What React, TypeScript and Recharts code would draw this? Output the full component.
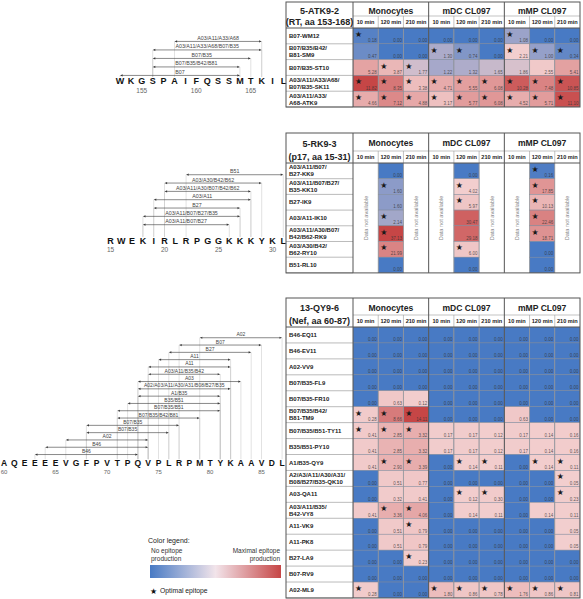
import React from 'react';
import { BarChart, Bar, XAxis, YAxis, ScatterChart, Scatter } from 'recharts';

const FONT = '"Liberation Sans", Arial, sans-serif';

// table geometry (page px)
const TL = 286;
const DX0 = 353;
const DX1 = 580;
const TR = 583;
const COLW = (DX1 - DX0) / 9;

const GROUPS = ['Monocytes', 'mDC CL097', 'mMP CL097'];
const TIMES = ['10 min', '120 min', '210 min'];

// ---- 5-ATK9-2
const seq1 = 'WKGSPAIFQSSMTKIL';
const seq1Start = 153;
const hla1 = ['A03/A11/A33/A68', 'A03/A11/A33/A68/B07/B35', 'B07/B35', 'B07/B35/B42/B81', 'B07'];
const from1 = [158, 156, 156, 156, 153];
const to1 = [166, 166, 165, 164, 164];

const title1 = ['5-ATK9-2', '(RT, aa 153-168)'];
const rows1 = ['B07-WM12', 'B07/B35/B42/\nB81-SM9', 'B07/B35-ST10', 'A03/A11/A33/A68/\nB07/B35-SK11', 'A03/A11/A33/\nA68-ATK9'];
const values1 = [
  [0.18, 0.0, 0.0, 0.0, 0.0, 0.0, 1.08, 0.0, 0.0],
  [0.47, 0.0, 0.0, 1.3, 0.74, 0.0, 2.21, 1.0, 0.34],
  [5.28, 3.87, 1.77, 1.22, 1.32, 1.65, 1.86, 2.55, 5.41],
  [11.82, 8.35, 3.38, 4.71, 5.55, 6.08, 10.28, 7.48, 10.85],
  [4.66, 7.12, 4.88, 3.17, 5.77, 6.08, 4.52, 5.71, 11.1],
];
const stars1 = [
  [1, 0, 0, 0, 0, 0, 1, 0, 0],
  [0, 0, 0, 1, 1, 0, 1, 1, 1],
  [0, 1, 1, 0, 0, 0, 0, 0, 0],
  [1, 1, 1, 1, 1, 1, 1, 1, 1],
  [1, 1, 1, 1, 1, 1, 1, 1, 1],
];

// ---- 5-RK9-3
const seq2 = 'RWEKIRLRPGGKKKYKL';
const seq2Start = 15;
const hla2 = ['B51', 'A03/A30/B42/B62', 'A03/A11/A30/B07/B42/B62', 'A03/A11', 'B27', 'A03/A11/B07/B27/B35', 'A03/A11/B07/B27'];
const from2 = [22, 20, 20, 19, 19, 18, 18];
const to2 = [31, 29, 28, 28, 27, 27, 26];

const title2 = ['5-RK9-3', '(p17, aa 15-31)'];
const rows2 = ['A03/A11/B07/\nB27-KK9', 'A03/A11/B07/B27/\nB35-KK10', 'B27-IK9', 'A03/A11-IK10', 'A03/A11/A30/B07/\nB42/B62-RK9', 'A03/A30/B42/\nB62-RY10', 'B51-RL10'];
const values2 = [
  [null, 0.0, null, null, 0.0, null, null, 0.16, null],
  [null, 1.6, null, null, 4.02, null, null, 17.85, null],
  [null, 1.6, null, null, 5.97, null, null, 10.13, null],
  [null, 2.14, null, null, 30.47, null, null, 22.46, null],
  [null, 37.13, null, null, 29.18, null, null, 18.71, null],
  [null, 21.99, null, null, 6.0, null, null, 0.0, null],
  [null, 0.0, null, null, 0.0, null, null, 0.0, null],
];
const stars2 = [
  [0, 0, 0, 0, 0, 0, 0, 1, 0],
  [0, 1, 0, 0, 1, 0, 0, 1, 0],
  [0, 0, 0, 0, 1, 0, 0, 1, 0],
  [0, 1, 0, 0, 0, 0, 0, 1, 0],
  [0, 1, 0, 0, 0, 0, 0, 1, 0],
  [0, 1, 0, 0, 1, 0, 0, 0, 0],
  [0, 0, 0, 0, 0, 0, 0, 0, 0],
];

// ---- 13-QY9-6
const seq3 = 'AQEEEEVGFPVTPQVPLRPMTYKAAVDL';
const seq3Start = 60;
const hla3 = ['A02', 'B07', 'B27', 'A11', 'A11', 'A03/A11/B35/B42', 'A03', 'A02/A03/A11/A30/A31/B08/B27/B35', 'A1/B35', 'B35/B51', 'B07/B35/B51', 'B07/B35/B42/B81', 'B07/B35', 'B07/B35', 'A02', 'B46', 'B46'];
const from3 = [79, 77, 76, 75, 74, 74, 73, 73, 73, 72, 71, 71, 68, 68, 66, 64, 63];
const to3 = [87, 85, 84, 82, 82, 81, 83, 82, 81, 81, 81, 79, 77, 76, 74, 74, 73];

const title3 = ['13-QY9-6', '(Nef, aa 60-87)'];
const rows3 = ['B46-EQ11', 'B46-EV11', 'A02-VV9', 'B07/B35-FL9', 'B07/B35-FR10', 'B07/B35/B42/\nB81-TM9', 'B07/B35/B51-TY11', 'B35/B51-PY10', 'A1/B35-QY9', 'A2/A3/A11/A30/A31/\nB08/B27/B35-QK10', 'A03-QA11', 'A03/A11/B35/\nB42-VY8', 'A11-VK9', 'A11-PK8', 'B27-LA9', 'B07-RV9', 'A02-ML9'];
const values3 = [
  [0, 0, 0, 0, 0, 0, 0, 0, 0],
  [0, 0, 0, 0, 0, 0, 0, 0, 0],
  [0, 0, 0, 0, 0, 0, 0, 0, 0],
  [0, 0, 0, 0, 0, 0, 0, 0, 0],
  [0, 0.63, 0.12, 0, 0, 0, 0, 0, 0],
  [0.28, 8.66, 14.11, 0, 0, 0, 0.63, 0, 0],
  [0.41, 2.85, 3.32, 0.17, 0.17, 0.12, 0.17, 0.14, 0.16],
  [0.41, 2.85, 3.32, 0.17, 0.17, 0.12, 0.17, 0.14, 0.16],
  [0.41, 2.9, 3.39, 0, 0.14, 0.11, 0, 0.14, 0.11],
  [0, 0.51, 0.77, 0, 0, 0, 0, 0, 0.05],
  [0, 0.32, 0.41, 0, 0.12, 0.3, 0, 0, 0.23],
  [0.41, 3.36, 4.06, 0, 0.14, 0.11, 0, 0.14, 0.11],
  [0, 0.51, 0.79, 0, 0, 0, 0, 0, 0.05],
  [0, 0.51, 0.79, 0, 0, 0, 0, 0, 0.05],
  [0, 0, 0.23, 0, 0, 0, 0, 0, 0],
  [0, 0, 0, 0, 0, 0, 0, 0, 0],
  [0.28, 0, 0, 1.8, 0.86, 0.78, 1.76, 0.86, 0.81],
];
const stars3 = [
  [0, 0, 0, 0, 0, 0, 0, 0, 0],
  [0, 0, 0, 0, 0, 0, 0, 0, 0],
  [0, 0, 0, 0, 0, 0, 0, 0, 0],
  [0, 0, 0, 0, 0, 0, 0, 0, 0],
  [0, 0, 0, 0, 0, 0, 0, 0, 0],
  [1, 1, 1, 0, 0, 0, 0, 0, 0],
  [1, 1, 1, 0, 0, 0, 0, 0, 0],
  [0, 0, 0, 0, 0, 0, 0, 0, 0],
  [0, 1, 1, 0, 1, 1, 0, 1, 1],
  [0, 0, 0, 0, 0, 0, 0, 0, 1],
  [0, 0, 0, 0, 1, 1, 0, 0, 1],
  [0, 1, 1, 0, 0, 0, 0, 0, 0],
  [0, 0, 1, 0, 0, 0, 0, 0, 0],
  [0, 0, 0, 0, 0, 0, 0, 0, 0],
  [0, 0, 1, 0, 0, 0, 0, 0, 0],
  [0, 0, 0, 0, 0, 0, 0, 0, 0],
  [1, 0, 0, 1, 1, 1, 1, 1, 1],
];

const BLUE = [72, 122, 196];
const PINK = [242, 206, 206];
const RED = [198, 70, 70];

const mix = (a: number[], b: number[], t: number) => {
  const k = Math.max(0, Math.min(1, t));
  const c = a.map((v, i) => Math.round(v + (b[i] - v) * k));
  return `rgb(${c[0]},${c[1]},${c[2]})`;
};

const heatColor = (v: number, mid: number, max: number) => {
  if (v <= mid) return mix(BLUE, PINK, mid > 0 ? v / mid : 0);
  return mix(PINK, RED, (v - mid) / (max - mid));
};

const median = (xs: number[]) => {
  const s = [...xs].sort((a, b) => a - b);
  const n = s.length;
  return n % 2 ? s[(n - 1) / 2] : (s[n / 2 - 1] + s[n / 2]) / 2;
};

type DiagramProps = {
  seq: string; start: number; hla: string[]; from: number[]; to: number[];
  left: number; top: number; width: number; height: number;
  x0: number; unit: number; firstLine: number; rowGap: number;
  letterY: number; numY: number; labelSize: number; letterSize: number; numSize: number;
};

function Diagram(p: DiagramProps) {
  const plotLeft = p.x0 - p.unit / 2 - p.left;
  const plotRight = plotLeft + p.seq.length * p.unit;
  const bandTop = p.firstLine - 0.85 * p.rowGap - p.top;
  const plotH = p.hla.length * p.rowGap;
  const axisH = p.height - bandTop - plotH;
  const positions = p.seq.split('').map((_, i) => p.start + i);
  const data = p.hla.map((h, i) => ({ name: 'e' + i, hla: h, range: [p.from[i], p.to[i]] }));
  const dotBottom = p.letterY - p.top - p.letterSize * 0.45;

  const tick = (t: any) => {
    const v = t.payload.value;
    return (
      <g fontFamily={FONT}>
        <text x={t.x} y={p.letterY - p.top} textAnchor="middle" dominantBaseline="central" fontSize={p.letterSize} fontWeight={700} fill="#111">
          {p.seq[v - p.start]}
        </text>
        {v % 5 === 0 && (
          <text x={t.x} y={p.numY - p.top} textAnchor="middle" dominantBaseline="central" fontSize={p.numSize} fill="#666">
            {v}
          </text>
        )}
      </g>
    );
  };

  const arrow = (s: any) => {
    const ly = s.y + s.height * 0.85;
    const x1 = s.x;
    const x2 = s.x + s.width;
    return (
      <g>
        <line x1={x1} y1={ly} x2={x1} y2={dotBottom} stroke="#c4c4c4" strokeWidth={0.5} />
        <line x1={x2} y1={ly} x2={x2} y2={dotBottom} stroke="#c4c4c4" strokeWidth={0.5} />
        <line x1={x1 + 2} y1={ly} x2={x2 - 2} y2={ly} stroke="#3a3a3a" strokeWidth={0.6} />
        <polygon points={`${x1},${ly} ${x1 + 2.6},${ly - 1.1} ${x1 + 2.6},${ly + 1.1}`} fill="#3a3a3a" />
        <polygon points={`${x2},${ly} ${x2 - 2.6},${ly - 1.1} ${x2 - 2.6},${ly + 1.1}`} fill="#3a3a3a" />
        <text x={(x1 + x2) / 2} y={ly - 1.5} textAnchor="middle" fontSize={p.labelSize} fill="#444" fontFamily={FONT}>
          {s.payload.hla}
        </text>
      </g>
    );
  };

  return (
    <div style={{ position: 'absolute', left: p.left, top: p.top }}>
      <BarChart
        width={p.width}
        height={p.height}
        data={data}
        layout="vertical"
        barCategoryGap={0}
        margin={{ top: bandTop, left: plotLeft, right: p.width - plotRight, bottom: 0 }}
      >
        <XAxis
          type="number"
          domain={[p.start - 0.5, p.start + p.seq.length - 0.5]}
          ticks={positions}
          interval={0}
          allowDataOverflow
          axisLine={false}
          tickLine={false}
          height={axisH}
          tick={tick}
        />
        <YAxis type="category" dataKey="name" hide />
        <Bar dataKey="range" isAnimationActive={false} shape={arrow} />
      </BarChart>
    </div>
  );
}

type HeatProps = {
  rows: string[]; values: (number | null)[][]; stars: number[][];
  top: number; dataTop: number; rowH: number;
};

function Heatmap({ rows, values, stars, top, dataTop, rowH }: HeatProps) {
  const headerH = dataTop - top;
  const W = TR - TL;
  const H = headerH + rows.length * rowH + 1;
  const cells: { col: number; row: number; v: number; star: number }[] = [];
  values.forEach((r, ri) =>
    r.forEach((v, ci) => {
      if (v != null) cells.push({ col: ci, row: ri, v, star: stars[ri][ci] });
    })
  );
  const vals = cells.map(c => c.v);
  const mid = median(vals);
  const max = Math.max(...vals);
  const colIdx = GROUPS.flatMap((_, g) => TIMES.map((__, t) => g * 3 + t));
  const rowIdx = rows.map((_, i) => i);

  const headTick = (t: any) => {
    const c = t.payload.value;
    return (
      <g fontFamily={FONT} fontWeight={700} fill="#222">
        <text x={t.x} y={headerH - 6} textAnchor="middle" dominantBaseline="central" fontSize={5.6}>
          {TIMES[c % 3]}
        </text>
        {c % 3 === 1 && (
          <text x={t.x} y={(headerH - 12) / 2 + 1.5} textAnchor="middle" dominantBaseline="central" fontSize={8.6}>
            {GROUPS[(c - 1) / 3]}
          </text>
        )}
      </g>
    );
  };

  const rowTick = (t: any) => {
    const lines = rows[t.payload.value].split('\n');
    const base = lines.length === 1 ? t.y + 2.1 : t.y - 1.5;
    return (
      <g>
        {lines.map((l, i) => (
          <text key={i} x={3} y={base + i * 6.9} fontSize={6} fontWeight={700} fill="#222" fontFamily={FONT}>
            {l}
          </text>
        ))}
        <line x1={0} x2={DX0 - TL} y1={t.y + rowH / 2} y2={t.y + rowH / 2} stroke="#aaa" strokeWidth={0.8} />
      </g>
    );
  };

  const cell = (s: any) => {
    if (s.cx == null) return <g />;
    const d = s.payload;
    const x = s.cx - COLW / 2;
    const y = s.cy - rowH / 2;
    return (
      <g>
        <rect x={x} y={y} width={COLW} height={rowH} fill={heatColor(d.v, mid, max)} stroke="#7d8799" strokeWidth={0.5} />
        {d.star ? (
          <text x={x + 5.5} y={y + 9} fontSize={8} textAnchor="middle" fontFamily="DejaVu Sans" fill="#1a1a1a">
            ★
          </text>
        ) : null}
        <text x={x + COLW - 1.5} y={y + rowH - 1.7} fontSize={4.5} textAnchor="end" fill="#333" fillOpacity={0.8} fontFamily={FONT}>
          {d.v.toFixed(2)}
        </text>
      </g>
    );
  };

  return (
    <div style={{ position: 'absolute', left: TL, top }}>
      <ScatterChart width={W} height={H} margin={{ top: 0, left: 0, right: W - (DX1 - TL), bottom: 1 }}>
        <XAxis
          type="number"
          dataKey="col"
          orientation="top"
          domain={[-0.5, 8.5]}
          ticks={colIdx}
          interval={0}
          allowDataOverflow
          height={headerH}
          axisLine={false}
          tickLine={false}
          tick={headTick}
        />
        <YAxis
          type="number"
          dataKey="row"
          domain={[-0.5, rows.length - 0.5]}
          reversed
          ticks={rowIdx}
          interval={0}
          allowDataOverflow
          width={DX0 - TL}
          axisLine={false}
          tickLine={false}
          tick={rowTick}
        />
        <Scatter data={cells} isAnimationActive={false} shape={cell} />
      </ScatterChart>
    </div>
  );
}

function Frame({ top, dataTop, rowH, nRows, title, na }: { top: number; dataTop: number; rowH: number; nRows: number; title: string[]; na?: boolean }) {
  const bottom = dataTop + nRows * rowH;
  const subTop = dataTop - 12;
  const dark = '#555';
  const light = '#9a9a9a';
  const cx = (TL + DX0) / 2;
  return (
    <g>
      {[1, 2, 4, 5, 7, 8].map(c => (
        <line key={c} x1={DX0 + c * COLW} x2={DX0 + c * COLW} y1={subTop} y2={bottom} stroke={light} strokeWidth={0.6} />
      ))}
      <line x1={DX0} x2={DX1} y1={subTop} y2={subTop} stroke={light} strokeWidth={0.6} />
      <line x1={TL} x2={DX1} y1={dataTop} y2={dataTop} stroke={dark} strokeWidth={1} />
      {[0, 3, 6].map(c => (
        <line key={c} x1={DX0 + c * COLW} x2={DX0 + c * COLW} y1={top} y2={bottom} stroke={dark} strokeWidth={1} />
      ))}
      <rect x={TL} y={top} width={DX1 - TL} height={bottom - top} fill="none" stroke={dark} strokeWidth={1} />
      <text x={cx} y={top + (dataTop - top - 12) / 2 + 1.5} textAnchor="middle" dominantBaseline="central" fontSize={9} fontWeight={700} fill="#222">
        {title[0]}
      </text>
      <text x={cx} y={dataTop - 6.5} textAnchor="middle" dominantBaseline="central" fontSize={9} fontWeight={700} fill="#222">
        {title[1]}
      </text>
      {na &&
        [0, 2, 3, 5, 6, 8].map(c => {
          const x = DX0 + (c + 0.5) * COLW;
          const y = (dataTop + bottom) / 2;
          return (
            <text key={c} x={x} y={y} transform={`rotate(-90 ${x} ${y})`} textAnchor="middle" dominantBaseline="central" fontSize={5.6} fill="#888">
              Data not available
            </text>
          );
        })}
    </g>
  );
}

export default function App() {
  return (
    <div style={{ position: 'absolute', left: 0, top: 0, width: 583, height: 599, background: '#fff', fontFamily: FONT, overflow: 'hidden' }}>
      <Diagram seq={seq1} start={seq1Start} hla={hla1} from={from1} to={to1}
        left={0} top={0} width={292} height={98} x0={120} unit={10.9} firstLine={41} rowGap={8.5}
        letterY={81} numY={90} labelSize={5.3} letterSize={9} numSize={6.5} />
      <Diagram seq={seq2} start={seq2Start} hla={hla2} from={from2} to={to2}
        left={0} top={160} width={292} height={100} x0={110.5} unit={10.8} firstLine={175} rowGap={8.33}
        letterY={241} numY={249.5} labelSize={5.3} letterSize={9} numSize={6.5} />
      <Diagram seq={seq3} start={seq3Start} hla={hla3} from={from3} to={to3}
        left={-6} top={325} width={298} height={155} x0={4} unit={10.3} firstLine={338} rowGap={7.3}
        letterY={463} numY={472} labelSize={5} letterSize={8.5} numSize={6} />

      <Heatmap rows={rows1} values={values1} stars={stars1} top={2} dataTop={28} rowH={15.8} />
      <Heatmap rows={rows2} values={values2} stars={stars2} top={133} dataTop={163} rowH={15.7} />
      <Heatmap rows={rows3} values={values3} stars={stars3} top={298} dataTop={327} rowH={15.94} />

      <svg width={583} height={599} style={{ position: 'absolute', left: 0, top: 0, pointerEvents: 'none' }} fontFamily={FONT}>
        <defs>
          <linearGradient id="legendGrad" x1="0" x2="1" y1="0" y2="0">
            <stop offset="0" stopColor="rgb(72,122,196)" />
            <stop offset="0.5" stopColor="rgb(242,228,234)" />
            <stop offset="1" stopColor="rgb(198,70,70)" />
          </linearGradient>
        </defs>
        <Frame top={2} dataTop={28} rowH={15.8} nRows={rows1.length} title={title1} />
        <Frame top={133} dataTop={163} rowH={15.7} nRows={rows2.length} title={title2} na />
        <Frame top={298} dataTop={327} rowH={15.94} nRows={rows3.length} title={title3} />

        <text x={148} y={543} fontSize={7} fill="#222">Color legend:</text>
        <text x={151} y={553} fontSize={6.5} fill="#333">No epitope</text>
        <text x={151} y={561} fontSize={6.5} fill="#333">production</text>
        <text x={280} y={553} fontSize={6.5} fill="#333" textAnchor="end">Maximal epitope</text>
        <text x={280} y={561} fontSize={6.5} fill="#333" textAnchor="end">production</text>
        <rect x={150} y={565} width={131} height={13} fill="url(#legendGrad)" />
        <text x={150} y={594} fontSize={8} fontFamily="DejaVu Sans" fill="#111">★</text>
        <text x={160} y={593} fontSize={6.8} fill="#222">Optimal epitope</text>
      </svg>
    </div>
  );
}
